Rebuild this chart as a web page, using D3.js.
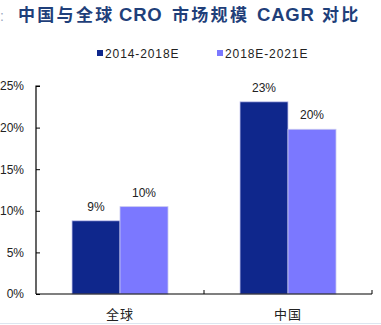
<!DOCTYPE html>
<html><head><meta charset="utf-8">
<script src="https://cdn.jsdelivr.net/npm/d3@7"></script>
<style>body{margin:0;background:#fff}svg{display:block}</style>
</head><body>
<script>
const categories = ["全球", "中国"];
const seriesNames = ["2014-2018E", "2018E-2021E"];
const series1 = [8.8, 23.1];
const series2 = [10.5, 19.8];
const valueLabels1 = ["9%", "23%"];
const valueLabels2 = ["10%", "20%"];
const yTicks = [0, 5, 10, 15, 20, 25];
const colors = ["#0F278C", "#7B78FF"];
const titleParts = ["中国与全球", "CRO", "市场规模", "CAGR", "对比"];

const W = 381, H = 325;
const svg = d3.select("body").append("svg").attr("width", W).attr("height", H);

// title
svg.append("text").attr("x", 0).attr("y", 21).attr("fill", "#9AA8C0")
  .attr("font-size", 14).attr("font-family", "Liberation Sans, Arial").text(":");
const titleX = [18, 119, 172, 257, 322];
const tt = svg.append("text").attr("y", 21).attr("font-weight", "bold").attr("fill", "#1F3F7A");
tt.selectAll("tspan").data(titleParts).join("tspan")
  .attr("x", (d, i) => titleX[i])
  .attr("font-family", (d, i) => i % 2 ? "Liberation Sans, Arial" : "'Noto Sans CJK SC', sans-serif")
  .attr("font-size", (d, i) => i % 2 ? 18.5 : 17)
  .attr("letter-spacing", (d, i) => i % 2 ? 0.8 : 2.3)
  .text(d => d);

const x0 = 36, x1 = 372, y0 = 294, y1 = 86;
const x = d3.scaleBand().domain(categories).range([x0, x1]).padding(0);
const xs = d3.scaleBand().domain([0, 1]).range([36, x.bandwidth() - 36]).padding(0);
const y = d3.scaleLinear().domain([0, 25]).range([y0, y1]);

// y axis
const yAxis = d3.axisRight(y).tickValues(yTicks).tickSize(4).tickFormat(d => d + "%");
const gy = svg.append("g").attr("transform", `translate(${x0},0)`).call(yAxis);
gy.select(".domain").attr("stroke", "#000").attr("stroke-width", 1.2).attr("d", `M4,${y1}H0V${y0}`);
gy.selectAll(".tick line").attr("stroke", "#000");
gy.selectAll(".tick text").attr("x", -12).attr("text-anchor", "end")
  .attr("font-family", "Liberation Sans, Arial").attr("font-size", 12).attr("fill", "#222");

// bars
const data = categories.map((c, i) => ({c, v: [series1[i], series2[i]], l: [valueLabels1[i], valueLabels2[i]]}));
const g = svg.append("g").selectAll("g").data(data).join("g")
  .attr("transform", d => `translate(${x(d.c)},0)`);
g.selectAll("rect").data(d => d.v.map((v, k) => ({v, k}))).join("rect")
  .attr("x", d => xs(d.k)).attr("width", xs.bandwidth())
  .attr("y", d => y(d.v)).attr("height", d => y0 - y(d.v))
  .attr("fill", d => colors[d.k]).attr("stroke", "#C8C8F0").attr("stroke-width", 0.8);
g.selectAll("text.vl").data(d => d.v.map((v, k) => ({v, k, l: d.l[k]}))).join("text")
  .attr("class", "vl")
  .attr("x", d => xs(d.k) + xs.bandwidth() / 2).attr("y", d => y(d.v) - 10)
  .attr("text-anchor", "middle").attr("font-family", "Liberation Sans, Arial")
  .attr("font-size", 12).attr("fill", "#222").text(d => d.l);

// x axis
svg.append("line").attr("x1", x0).attr("x2", x1).attr("y1", y0).attr("y2", y0)
  .attr("stroke", "#000").attr("stroke-width", 1.2);
svg.selectAll("line.xt").data(categories).join("line").attr("class", "xt")
  .attr("x1", d => x(d) + x.bandwidth()).attr("x2", d => x(d) + x.bandwidth())
  .attr("y1", y0).attr("y2", y0 - 4).attr("stroke", "#000");
svg.selectAll("text.cat").data(categories).join("text").attr("class", "cat")
  .attr("x", d => x(d) + x.bandwidth() / 2).attr("y", 319)
  .attr("text-anchor", "middle").attr("font-family", "'Noto Sans CJK SC', sans-serif")
  .attr("font-size", 13).attr("fill", "#222").attr("letter-spacing", 1).text(d => d);

// legend
const legX = [97, 217];
const lg = svg.append("g").selectAll("g").data(seriesNames).join("g")
  .attr("transform", (d, i) => `translate(${legX[i]},53)`);
lg.append("rect").attr("x", 0).attr("y", -3).attr("width", 6).attr("height", 6)
  .attr("fill", (d, i) => colors[i]);
lg.append("text").attr("x", 8).attr("y", 4.5).attr("font-family", "Liberation Sans, Arial")
  .attr("font-size", 12).attr("letter-spacing", 0.9).attr("fill", "#222").text(d => d);

// bottom rule
svg.append("line").attr("x1", 0).attr("x2", W).attr("y1", 323.5).attr("y2", 323.5)
  .attr("stroke", "#DDE6F0").attr("stroke-width", 1);
</script>
</body></html>
